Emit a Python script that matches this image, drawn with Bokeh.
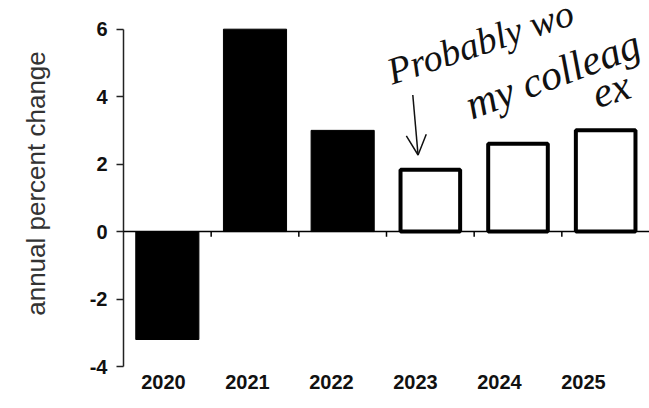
from bokeh.plotting import figure
from bokeh.models import (Range1d, Span, Label, Arrow, OpenHead,
                          LinearAxis, FixedTicker, LinearScale)
from bokeh.embed import file_html
from bokeh.resources import INLINE

# ---- data ----
years = ["2020", "2021", "2022", "2023", "2024", "2025"]
actual_years = ["2020", "2021", "2022"]
actual_values = [-3.2, 6.0, 3.0]
forecast_years = ["2023", "2024", "2025"]
forecast_values = [1.83, 2.6, 3.0]
y_ticks = [-4, -2, 0, 2, 4, 6]
y_tick_labels = ["-4", "-2", "0", "2", "4", "6"]
y_label = "annual percent change"
note_lines = ["Probably wo", "my colleag", "ex"]

idx = list(range(len(years)))
actual_x = [years.index(y) for y in actual_years]
forecast_x = [years.index(y) for y in forecast_years]

p = figure(
    x_range=Range1d(-0.5, len(years) - 0.5),
    y_range=Range1d(-4, 6.85),
    width=649, height=408,
    output_backend="svg", toolbar_location=None,
    x_axis_location=None,
    min_border_left=123, min_border_right=0,
    min_border_top=0, min_border_bottom=42,
)
p.outline_line_color = None
p.xgrid.visible = False
p.ygrid.visible = False
p.background_fill_color = "white"
p.border_fill_color = "white"

# bars
p.vbar(x=actual_x, top=actual_values, bottom=0, width=0.72,
       fill_color="black", line_color="black", line_width=1)
p.vbar(x=forecast_x, top=forecast_values, bottom=0, width=0.68,
       fill_color="white", line_color="black", line_width=4)

# zero line with small ticks between categories
p.add_layout(Span(location=0, dimension="width", line_color="black", line_width=1.5))
bounds = [i + 0.5 for i in idx[:-1]]
p.segment(x0=bounds, y0=[0] * len(bounds), x1=bounds, y1=[-0.15] * len(bounds),
          line_color="black", line_width=1.5)

# year labels along the bottom (slightly tighter spacing than the bars, as drawn)
p.extra_x_ranges = {"labels": Range1d(-0.476, 5.786)}
p.extra_x_scales = {"labels": LinearScale()}
xa = LinearAxis(x_range_name="labels", ticker=FixedTicker(ticks=idx),
                major_label_overrides={i: y for i, y in zip(idx, years)})
xa.axis_line_color = None
xa.major_tick_line_color = None
xa.minor_tick_line_color = None
xa.major_label_standoff = 2
xa.major_label_text_font = "Liberation Sans"
xa.major_label_text_font_style = "bold"
xa.major_label_text_font_size = "20px"
xa.major_label_text_color = "#111111"
p.add_layout(xa, "below")

# y axis
ya = p.yaxis[0]
ya.ticker = y_ticks
ya.bounds = (min(y_ticks), max(y_ticks))
ya.major_label_overrides = {t: s for t, s in zip(y_ticks, y_tick_labels)}
ya.axis_line_color = "#222222"
ya.axis_line_width = 1.5
ya.major_tick_line_color = "#222222"
ya.major_tick_line_width = 1.5
ya.major_tick_out = 7
ya.major_tick_in = 0
ya.minor_tick_line_color = None
ya.major_label_standoff = 9
ya.major_label_text_font = "Liberation Sans"
ya.major_label_text_font_style = "bold"
ya.major_label_text_font_size = "20px"
ya.major_label_text_color = "#111111"
ya.axis_label = y_label
ya.axis_label_text_font = "Liberation Sans"
ya.axis_label_text_font_style = "normal"
ya.axis_label_text_font_size = "26px"
ya.axis_label_text_color = "#333333"
ya.axis_label_standoff = 36

# handwritten note
hand = dict(text_font="Liberation Serif", text_font_style="italic",
            text_color="#111111", text_baseline="alphabetic", text_align="left")
p.add_layout(Label(x=2.52, y=4.72, text=note_lines[0], angle=0.32,
                   text_font_size="38px", **hand))
p.add_layout(Label(x=3.42, y=3.7, text=note_lines[1], angle=0.36,
                   text_font_size="42px", **hand))
p.add_layout(Label(x=4.86, y=4.05, text=note_lines[2], angle=0.3,
                   text_font_size="42px", **hand))
p.add_layout(Arrow(end=OpenHead(size=20, line_width=1.5, line_color="#111111"),
                   x_start=2.80, y_start=4.05, x_end=2.86, y_end=2.27,
                   line_width=1.5, line_color="#111111"))

open("out.html", "w").write(file_html(p, INLINE))
